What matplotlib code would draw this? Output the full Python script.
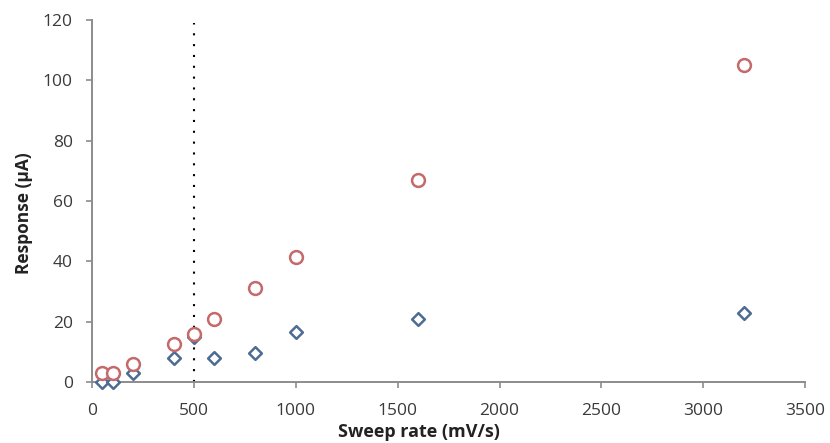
import matplotlib
matplotlib.use("Agg")
import matplotlib.pyplot as plt

sweep_rate = [50, 100, 200, 400, 500, 600, 800, 1000, 1600, 3200]
response_red = [3, 3, 6, 12.5, 16, 21, 31, 41.5, 67, 105]
response_blue = [0, 0, 3, 8, 15, 8, 9.5, 16.5, 21, 23]
x_ticks = [0, 500, 1000, 1500, 2000, 2500, 3000, 3500]
y_ticks = [0, 20, 40, 60, 80, 100, 120]
cutoff = 500
cutoff_top = 119

plt.rcParams['font.family'] = ['Open Sans', 'DejaVu Sans']

fig = plt.figure(figsize=(8.3, 4.43), dpi=100)
ax = fig.add_axes([0.111, 0.1377, 0.859, 0.8173])

ax.scatter(sweep_rate, response_blue, marker='D', s=42, facecolors='white',
           edgecolors='#4d6b93', linewidths=1.8, zorder=3, clip_on=False)
ax.scatter(sweep_rate, response_red, marker='o', s=85, facecolors='white',
           edgecolors='#c46a6a', linewidths=1.8, zorder=4, clip_on=False)
ax.plot([cutoff, cutoff], [0, cutoff_top], linestyle=(0, (1, 4.2)), color='black',
        linewidth=1.5, zorder=2)

ax.set_xlim(0, 3500)
ax.set_ylim(0, 120)
ax.set_xticks(x_ticks)
ax.set_yticks(y_ticks)
ax.tick_params(axis='both', labelsize=12.5, colors='#8c8c8c', labelcolor='#3a3a3a',
               length=4, width=1.2, direction='out')
ax.tick_params(axis='x', pad=11)
ax.tick_params(axis='y', pad=10)
ax.spines['top'].set_visible(False)
ax.spines['right'].set_visible(False)
for s in ['left', 'bottom']:
    ax.spines[s].set_color('#8c8c8c')
    ax.spines[s].set_linewidth(1.4)
ax.set_xlabel('Sweep rate (mV/s)', fontsize=13, fontweight='bold',
              color='#222222')
ax.set_ylabel('Response (µA)', fontsize=12.5, fontweight='bold',
              color='#222222')
ax.xaxis.set_label_coords(0.459, -0.112)
ax.yaxis.set_label_coords(-0.083, 0.467)

fig.savefig('out.png', dpi=100)
